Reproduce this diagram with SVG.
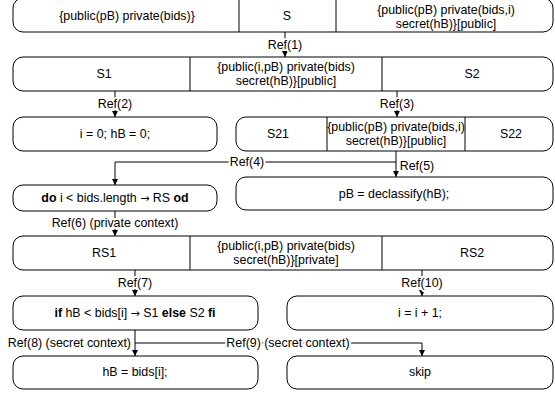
<svg xmlns="http://www.w3.org/2000/svg" width="555" height="394" viewBox="0 0 555 394">
<style>
.box{fill:#fff;stroke:#000;stroke-width:1}
.div{stroke:#000;stroke-width:1}
text{font-family:"Liberation Sans",Arial,sans-serif;font-size:12.4px;fill:#000;text-anchor:middle;dominant-baseline:central}
.lbl{paint-order:stroke;stroke:#fff;stroke-width:4px}
.c{fill:none;stroke:#000;stroke-width:1}
.b{font-weight:bold}
.ar{font-family:"DejaVu Sans",sans-serif;font-size:11px}
</style>
<defs>
<marker id="ah" viewBox="0 0 10 10" refX="10" refY="5" markerWidth="6" markerHeight="6" markerUnits="userSpaceOnUse" orient="auto">
<path d="M0,0 L10,5 L0,10 z" fill="#000"/>
</marker>
</defs>
<g id="connectors">
<path class="c" d="M285,32 V57" marker-end="url(#ah)"/>
<path class="c" d="M115,91 V117" marker-end="url(#ah)"/>
<path class="c" d="M397,91 V117" marker-end="url(#ah)"/>
<path class="c" d="M396,151 V177" marker-end="url(#ah)"/>
<path class="c" d="M396,162 H115 V185" marker-end="url(#ah)"/>
<path class="c" d="M115,211 V236" marker-end="url(#ah)"/>
<path class="c" d="M135,270 V296" marker-end="url(#ah)"/>
<path class="c" d="M422,270 V296" marker-end="url(#ah)"/>
<path class="c" d="M135,330 V356" marker-end="url(#ah)"/>
<path class="c" d="M135,343 H422 V356" marker-end="url(#ah)"/>
<text class="lbl" x="285" y="45">Ref(1)</text>
<text class="lbl" x="115" y="104">Ref(2)</text>
<text class="lbl" x="397" y="104">Ref(3)</text>
<text class="lbl" x="247" y="162">Ref(4)</text>
<text class="lbl" x="417" y="166">Ref(5)</text>
<text class="lbl" x="115" y="223">Ref(6) (private context)</text>
<text class="lbl" x="135" y="283">Ref(7)</text>
<text class="lbl" x="422" y="283">Ref(10)</text>
<text class="lbl" x="131" y="343" style="text-anchor:end">Ref(8) (secret context)</text>
<text class="lbl" x="288" y="343">Ref(9) (secret context)</text>
</g>
<g id="node-top">
<rect class="box" x="13" y="-2" width="540" height="34" rx="10"/>
<line class="div" x1="239" y1="-2" x2="239" y2="32"/>
<line class="div" x1="336" y1="-2" x2="336" y2="32"/>
<text x="127" y="16">{public(pB) private(bids)}</text>
<text x="287" y="16">S</text>
<text x="446" y="10">{public(pB) private(bids,i)</text>
<text x="446" y="24">secret(hB)}[public]</text>
</g>
<g id="node-s1s2">
<rect class="box" x="13" y="57" width="540" height="34" rx="10"/>
<line class="div" x1="190" y1="57" x2="190" y2="91"/>
<line class="div" x1="382" y1="57" x2="382" y2="91"/>
<text x="104" y="74">S1</text>
<text x="286" y="67">{public(i,pB) private(bids)</text>
<text x="286" y="81">secret(hB)}[public]</text>
<text x="472" y="74">S2</text>
</g>
<g id="node-init">
<rect class="box" x="13" y="117" width="204" height="34" rx="10"/>
<text x="115" y="134">i = 0; hB = 0;</text>
</g>
<g id="node-s21s22">
<rect class="box" x="236" y="117" width="317" height="34" rx="10"/>
<line class="div" x1="327" y1="117" x2="327" y2="151"/>
<line class="div" x1="465" y1="117" x2="465" y2="151"/>
<text x="278" y="134">S21</text>
<text x="396" y="127">{public(pB) private(bids,i)</text>
<text x="396" y="141">secret(hB)}[public]</text>
<text x="511" y="134">S22</text>
</g>
<g id="node-do">
<rect class="box" x="13" y="185" width="204" height="26" rx="10"/>
<text x="115" y="198"><tspan class="b">do</tspan> i &lt; bids.length <tspan class="ar">→</tspan> RS <tspan class="b">od</tspan></text>
</g>
<g id="node-declassify">
<rect class="box" x="236" y="177" width="317" height="33" rx="10"/>
<text x="394" y="194">pB = declassify(hB);</text>
</g>
<g id="node-rs">
<rect class="box" x="13" y="236" width="540" height="34" rx="10"/>
<line class="div" x1="190" y1="236" x2="190" y2="270"/>
<line class="div" x1="382" y1="236" x2="382" y2="270"/>
<text x="104" y="253">RS1</text>
<text x="286" y="246">{public(i,pB) private(bids)</text>
<text x="286" y="260">secret(hB)}[private]</text>
<text x="472" y="253">RS2</text>
</g>
<g id="node-if">
<rect class="box" x="13" y="296" width="245" height="34" rx="10"/>
<text x="135" y="313"><tspan class="b">if</tspan> hB &lt; bids[i] <tspan class="ar">→</tspan> S1 <tspan class="b">else</tspan> S2 <tspan class="b">fi</tspan></text>
</g>
<g id="node-inc">
<rect class="box" x="287" y="296" width="266" height="34" rx="10"/>
<text x="420" y="313">i = i + 1;</text>
</g>
<g id="node-assign">
<rect class="box" x="13" y="356" width="245" height="33" rx="10"/>
<text x="135" y="372">hB = bids[i];</text>
</g>
<g id="node-skip">
<rect class="box" x="287" y="356" width="266" height="33" rx="10"/>
<text x="420" y="372">skip</text>
</g>
</svg>
